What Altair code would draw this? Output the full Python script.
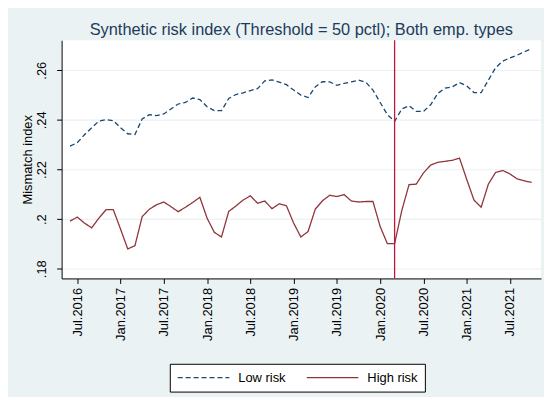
import altair as alt
import pandas as pd

# Monthly observations, Jun.2016 .. Oct.2021 (index 0 = Jun.2016)
month_index = list(range(65))

low_risk = [
    0.2294, 0.2308, 0.2340, 0.2368, 0.2395, 0.2401, 0.2397, 0.2368, 0.2344, 0.2341,
    0.2404, 0.2421, 0.2417, 0.2424, 0.2444, 0.2464, 0.2470, 0.2488, 0.2482, 0.2453,
    0.2437, 0.2437, 0.2486, 0.2502, 0.2509, 0.2518, 0.2526, 0.2557, 0.2561, 0.2552,
    0.2542, 0.2520, 0.2500, 0.2490, 0.2533, 0.2554, 0.2553, 0.2539, 0.2547, 0.2553,
    0.2560, 0.2552, 0.2520, 0.2470, 0.2421, 0.2394, 0.2444, 0.2457, 0.2434, 0.2434,
    0.2461, 0.2507, 0.2528, 0.2533, 0.2550, 0.2537, 0.2510, 0.2510, 0.2560, 0.2610,
    0.2637, 0.2650, 0.2661, 0.2674, 0.2688,
]

high_risk = [
    0.1992, 0.2008, 0.1984, 0.1965, 0.2004, 0.2038, 0.2038, 0.1960, 0.1880, 0.1893,
    0.2010, 0.2040, 0.2058, 0.2069, 0.2050, 0.2030, 0.2048, 0.2067, 0.2088, 0.2004,
    0.1947, 0.1928, 0.2031, 0.2053, 0.2077, 0.2094, 0.2064, 0.2073, 0.2042, 0.2062,
    0.2054, 0.1984, 0.1928, 0.1950, 0.2040, 0.2074, 0.2096, 0.2091, 0.2099, 0.2073,
    0.2069, 0.2071, 0.2071, 0.1970, 0.1901, 0.1901, 0.2035, 0.2139, 0.2141, 0.2186,
    0.2218, 0.2229, 0.2233, 0.2237, 0.2246, 0.2160, 0.2077, 0.2048, 0.2141, 0.2188,
    0.2196, 0.2182, 0.2162, 0.2154, 0.2148,
]

series_names = ["Low risk", "High risk"]
series_colors = ["#1a476f", "#90353b"]

tick_values = [1, 7, 13, 19, 25, 31, 37, 43, 49, 55, 61]
tick_labels = ["Jul.2016", "Jan.2017", "Jul.2017", "Jan.2018", "Jul.2018", "Jan.2019",
               "Jul.2019", "Jan.2020", "Jul.2020", "Jan.2021", "Jul.2021"]

y_ticks = [0.18, 0.20, 0.22, 0.24, 0.26]

event_month = [45]  # Mar.2020

title_text = "Synthetic risk index (Threshold = 50 pctl); Both emp. types"

df = pd.DataFrame({
    "t": month_index * 2,
    "v": low_risk + high_risk,
    "series": [series_names[0]] * len(low_risk) + [series_names[1]] * len(high_risk),
})

label_array = "[" + ",".join("'" + s + "'" for s in tick_labels) + "]"
x_label_expr = label_array + "[round((datum.value - 1) / 6)]"

FONT = "Liberation Sans"

lines = alt.Chart(df).mark_line(strokeWidth=1.3).encode(
    x=alt.X("t:Q",
            scale=alt.Scale(domain=[-1.17, 65.3], nice=False, zero=False),
            axis=alt.Axis(values=tick_values, labelExpr=x_label_expr, title=None,
                          grid=False, labelAngle=270, labelAlign="right",
                          labelBaseline="middle", labelPadding=4, tickSize=5,
                          labelFontSize=13, labelFont=FONT, labelColor="black",
                          domainColor="black", tickColor="black")),
    y=alt.Y("v:Q",
            scale=alt.Scale(domain=[0.1761, 0.2721], nice=False, zero=False),
            axis=alt.Axis(values=y_ticks,
                          labelExpr="substring(format(datum.value, '.2~f'), 1)",
                          title="Mismatch index", grid=True, gridColor="#eaf2f3",
                          gridWidth=1.2, labelAngle=270, labelAlign="center",
                          labelBaseline="bottom", labelPadding=8, tickSize=5,
                          labelFontSize=13, labelFont=FONT, labelColor="black",
                          titleFontSize=13, titleFont=FONT, titleFontWeight="normal",
                          titleColor="black", titlePadding=1,
                          domainColor="black", tickColor="black")),
    color=alt.Color("series:N",
                    scale=alt.Scale(domain=series_names, range=series_colors),
                    legend=alt.Legend(title=None)),
    strokeDash=alt.StrokeDash("series:N",
                              scale=alt.Scale(domain=series_names, range=[[5, 3], [1, 0]]),
                              legend=alt.Legend(title=None)),
)

rule = alt.Chart(pd.DataFrame({"t": event_month})).mark_rule(
    color="#c0163b", strokeWidth=1.3
).encode(x="t:Q")

chart = alt.layer(lines, rule).properties(
    width=483,
    height=240,
    padding={"left": 54, "top": 31, "right": 3, "bottom": 118},
    autosize=alt.AutoSizeParams(type="none"),
    background="#eaf2f3",
    title=alt.Title(title_text, fontSize=16.5, font=FONT, fontWeight="normal",
                    color="#1e3a5a", anchor="middle", offset=1),
).configure_view(
    fill="white", strokeWidth=0
).configure_legend(
    orient="none", legendX=109, legendY=326, direction="horizontal",
    strokeColor="black", fillColor="white", padding=7, cornerRadius=0,
    symbolType="stroke", symbolSize=2700, symbolStrokeWidth=1.3,
    clipHeight=14,
    labelFontSize=13, labelFont=FONT, labelColor="black",
    labelOffset=8, columnPadding=20,
)

chart.save("out.html", embed_options={"renderer": "svg", "actions": False})
